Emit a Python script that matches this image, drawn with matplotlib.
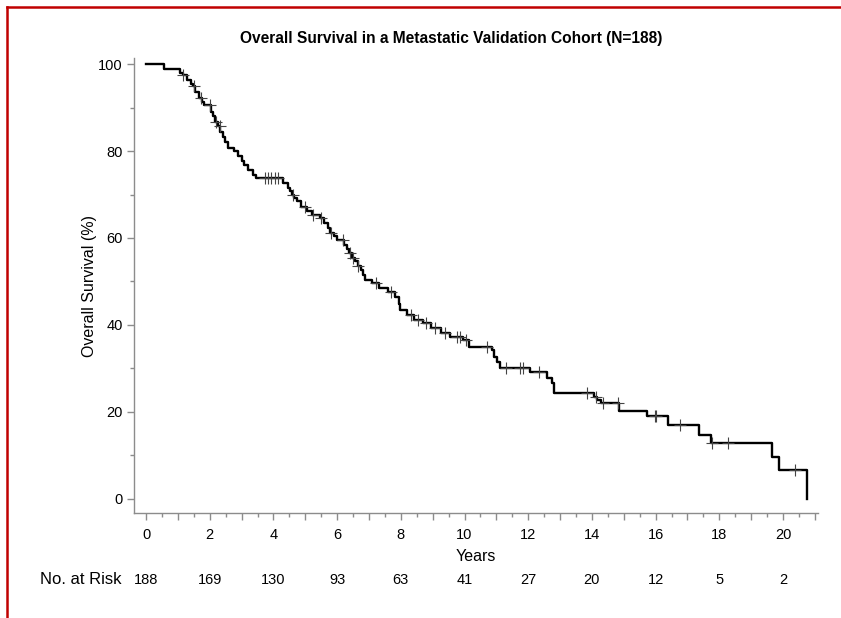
"""Kaplan-Meier overall survival, metastatic validation cohort, with at-risk row."""
import numpy as np
import matplotlib
matplotlib.use("Agg")
import matplotlib.pyplot as plt
from matplotlib.lines import Line2D
from matplotlib.transforms import blended_transform_factory

plt.rcParams["font.family"] = ["Liberation Sans", "DejaVu Sans"]

# step points: time (years) and survival (%) just after each drop
event_t = [0.57, 1.05, 1.15, 1.28, 1.40, 1.47, 1.55, 1.65, 1.75, 1.81, 2.05, 2.10,
           2.15, 2.25, 2.33, 2.40, 2.47, 2.58, 2.75, 2.90, 3.02, 3.09, 3.20, 3.35,
           3.45, 4.30, 4.45, 4.51, 4.58, 4.65, 4.75, 4.88, 5.05, 5.20, 5.45, 5.58,
           5.70, 5.76, 5.90, 5.98, 6.20, 6.30, 6.36, 6.48, 6.55, 6.65, 6.76, 6.82,
           6.87, 7.10, 7.30, 7.60, 7.82, 7.93, 7.98, 8.20, 8.40, 8.70, 8.95, 9.25,
           9.55, 9.95, 10.13, 10.85, 10.93, 11.02, 11.10, 12.07, 12.60, 12.75, 12.80,
           14.07, 14.17, 14.27, 14.86, 15.74, 16.40, 17.35, 17.73, 19.65, 19.86, 20.76]
event_s = [98.9, 98.0, 97.4, 96.4, 95.4, 94.9, 93.7, 92.2, 91.2, 90.7, 89.0, 88.0,
           86.8, 85.7, 84.5, 83.2, 82.1, 80.8, 79.9, 78.8, 77.6, 76.8, 75.7, 74.6,
           73.8, 72.6, 71.5, 70.7, 69.8, 69.2, 68.4, 67.2, 66.1, 65.3, 64.5, 63.4,
           62.3, 61.1, 60.4, 59.6, 58.4, 57.4, 56.5, 55.4, 54.6, 53.6, 52.6, 51.4,
           50.3, 49.6, 48.4, 47.6, 46.5, 44.9, 43.4, 42.3, 41.1, 40.4, 39.2, 38.1,
           37.3, 36.5, 35.0, 34.2, 32.7, 31.5, 30.0, 29.2, 27.7, 26.5, 24.4,
           23.5, 22.7, 21.9, 20.2, 19.0, 16.9, 14.6, 12.9, 9.5, 6.6, 0.0]

censor_t = [1.16, 1.52, 1.73, 2.0, 2.2, 2.31, 3.72, 3.83, 3.93, 4.04, 4.14, 4.61,
            4.98, 5.24, 5.5, 5.82, 6.18, 6.39, 6.5, 6.65, 7.23, 7.7, 8.33, 8.54,
            8.8, 9.07, 9.38, 9.75, 9.86, 10.06, 10.69, 11.29, 11.73, 11.82, 12.34,
            13.83, 14.14, 14.35, 14.82, 15.97, 16.02, 16.76, 17.76, 18.28, 20.37]

risk_t = [0, 2, 4, 6, 8, 10, 12, 14, 16, 18, 20]
risk_n = [188, 169, 130, 93, 63, 41, 27, 20, 12, 5, 2]

t = np.r_[0, event_t]
s = np.r_[100, event_s]
idx = np.searchsorted(t, censor_t, side="right") - 1
censor_s = s[idx]

fig = plt.figure(figsize=(8.41, 6.18), dpi=100)
ax = fig.add_axes([0.1593, 0.170, 0.8134, 0.736])

ax.step(t, s, where="post", color="black", lw=1.7, zorder=3)
ax.plot(censor_t, censor_s, ls="none", marker="+", ms=8, mew=0.8,
        color="#444444", zorder=4)

ax.set_xlim(-0.38, 21.1)
ax.set_ylim(-3.3, 101.4)
ax.set_xticks(range(0, 22))
ax.set_xticklabels([str(v) if v % 2 == 0 else "" for v in range(0, 22)])
ax.set_xticks(np.arange(0.5, 21, 1.0), minor=True)
ax.set_yticks(range(0, 101, 20))
ax.set_yticks(range(10, 100, 20), minor=True)

for side in ("top", "right"):
    ax.spines[side].set_visible(False)
for side in ("left", "bottom"):
    ax.spines[side].set_color("#8c8c8c")
    ax.spines[side].set_linewidth(1.0)
ax.tick_params(which="major", length=5, width=1, color="#8c8c8c",
               labelsize=10.5, pad=6)
ax.tick_params(which="minor", length=3, width=1, color="#8c8c8c")
ax.tick_params(axis="y", which="major", pad=3)

ax.set_xlabel("Years", fontsize=11.5, labelpad=5)
ax.set_ylabel("Overall Survival (%)", fontsize=11.5, labelpad=1)

fig.text(0.536, 0.938, "Overall Survival in a Metastatic Validation Cohort (N=188)",
         ha="center", va="center", fontsize=11.2, fontweight="bold")

# at-risk row under the axis, aligned with the year ticks
row_y = 1 - 580 / 618
row_tr = blended_transform_factory(ax.transData, fig.transFigure)
for xt, n in zip(risk_t, risk_n):
    ax.text(xt, row_y, str(n), transform=row_tr, ha="center", va="center",
            fontsize=10.5)
fig.text(40 / 841, row_y, "No. at Risk", ha="left", va="center", fontsize=12)

# red frame on top and left edges
red = "#c00000"
fig.add_artist(Line2D([7 / 841, 1], [1 - 7 / 618, 1 - 7 / 618],
                      transform=fig.transFigure, color=red, lw=1.8))
fig.add_artist(Line2D([7 / 841, 7 / 841], [0, 1 - 7 / 618],
                      transform=fig.transFigure, color=red, lw=1.8))

fig.savefig("out.png", dpi=100)
